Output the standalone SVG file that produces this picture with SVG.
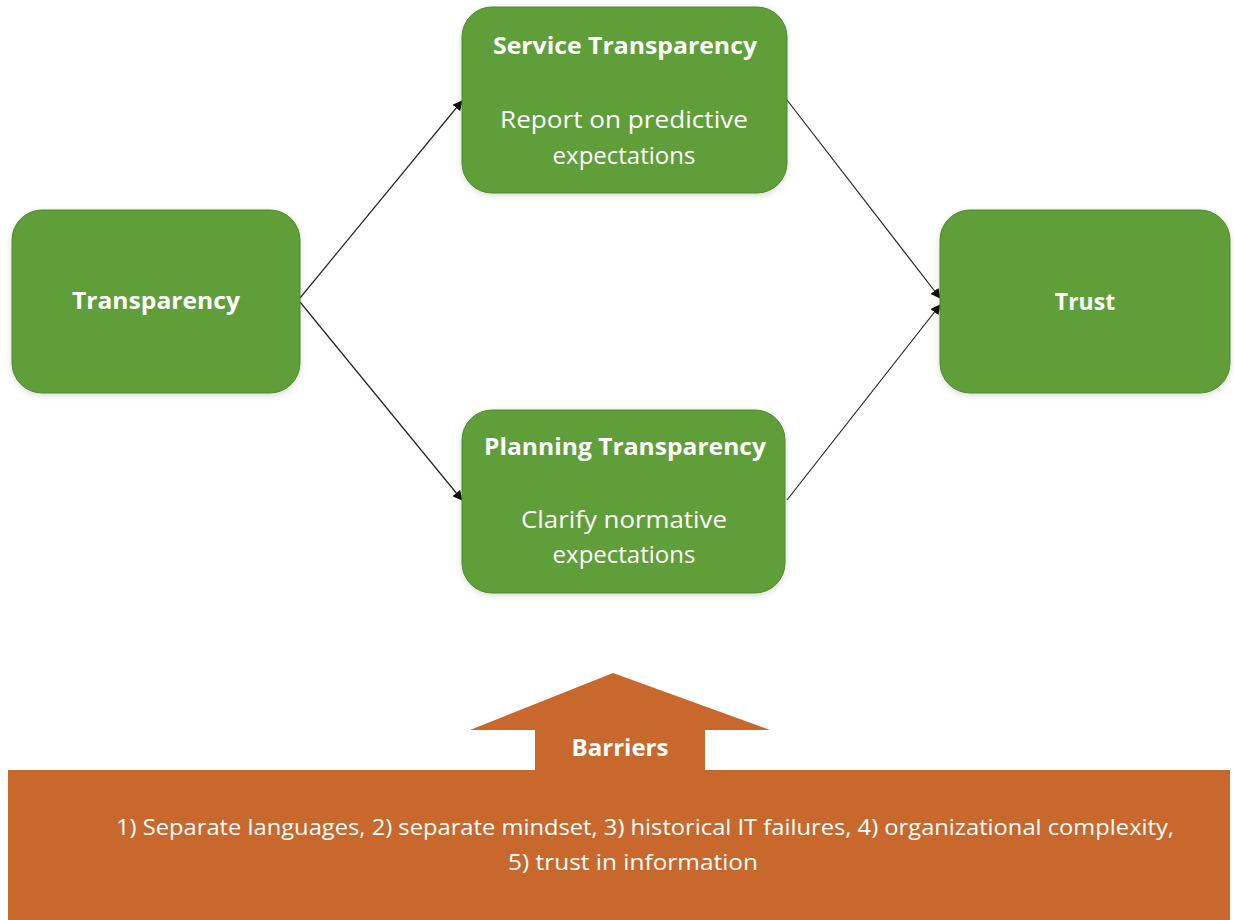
<svg xmlns="http://www.w3.org/2000/svg" width="1234" height="920" viewBox="0 0 1234 920">
<style>
.box{fill:#5e9e37;stroke:#4f8a2d;stroke-width:1}
.t{font-family:"Open Sans","Liberation Sans",sans-serif;fill:#ffffff;text-anchor:middle}
.b{font-weight:bold;font-size:23px}
.r{font-size:24px}
.c{stroke:#222;stroke-width:1.2;fill:none;marker-end:url(#ah)}
.o{fill:#c9682c}
</style>
<defs>
<marker id="ah" viewBox="0 0 10 10" refX="9" refY="5" markerWidth="10" markerHeight="10" markerUnits="userSpaceOnUse" orient="auto">
<path d="M0,0 L10,5 L0,10 z" fill="#111"/>
</marker>
<filter id="sh" x="-10%" y="-10%" width="120%" height="120%">
<feDropShadow dx="0" dy="2" stdDeviation="3" flood-color="#000" flood-opacity="0.15"/>
</filter>
</defs>
<rect width="1234" height="920" fill="#ffffff"/>
<g id="connectors">
<line class="c" x1="300" y1="298" x2="462" y2="101"/>
<line class="c" x1="300" y1="302" x2="462" y2="500"/>
<line class="c" x1="787" y1="100" x2="940" y2="298"/>
<line class="c" x1="787" y1="500" x2="940" y2="305"/>
</g>
<g id="node-transparency">
<rect class="box" x="12" y="210" width="288" height="183" rx="30" filter="url(#sh)"/>
<text class="t b" x="156" y="309" textLength="168" lengthAdjust="spacingAndGlyphs">Transparency</text>
</g>
<g id="node-service">
<rect class="box" x="462" y="7" width="325" height="186" rx="30" filter="url(#sh)"/>
<text class="t b" x="625" y="54" textLength="264" lengthAdjust="spacingAndGlyphs">Service Transparency</text>
<text class="t r" x="624" y="128" textLength="248" lengthAdjust="spacingAndGlyphs">Report on predictive</text>
<text class="t r" x="624" y="164">expectations</text>
</g>
<g id="node-planning">
<rect class="box" x="462" y="410" width="323" height="183" rx="30" filter="url(#sh)"/>
<text class="t b" x="625" y="455" textLength="282" lengthAdjust="spacingAndGlyphs">Planning Transparency</text>
<text class="t r" x="624" y="528" textLength="206" lengthAdjust="spacingAndGlyphs">Clarify normative</text>
<text class="t r" x="624" y="563">expectations</text>
</g>
<g id="node-trust">
<rect class="box" x="940" y="210" width="290" height="183" rx="30" filter="url(#sh)"/>
<text class="t b" x="1085" y="310">Trust</text>
</g>
<g id="node-barriers">
<path class="o" d="M613,673 L770,730 L705,730 L705,772 L535,772 L535,730 L470,730 Z"/>
<rect class="o" x="8" y="770" width="1222" height="150"/>
<text class="t b" x="620" y="756" textLength="97" lengthAdjust="spacingAndGlyphs">Barriers</text>
<text class="t" x="645" y="835" font-size="21" textLength="1058" lengthAdjust="spacingAndGlyphs">1) Separate languages, 2) separate mindset, 3) historical IT failures, 4) organizational complexity,</text>
<text class="t" x="633" y="870" font-size="21" textLength="250" lengthAdjust="spacingAndGlyphs">5) trust in information</text>
</g>
</svg>
